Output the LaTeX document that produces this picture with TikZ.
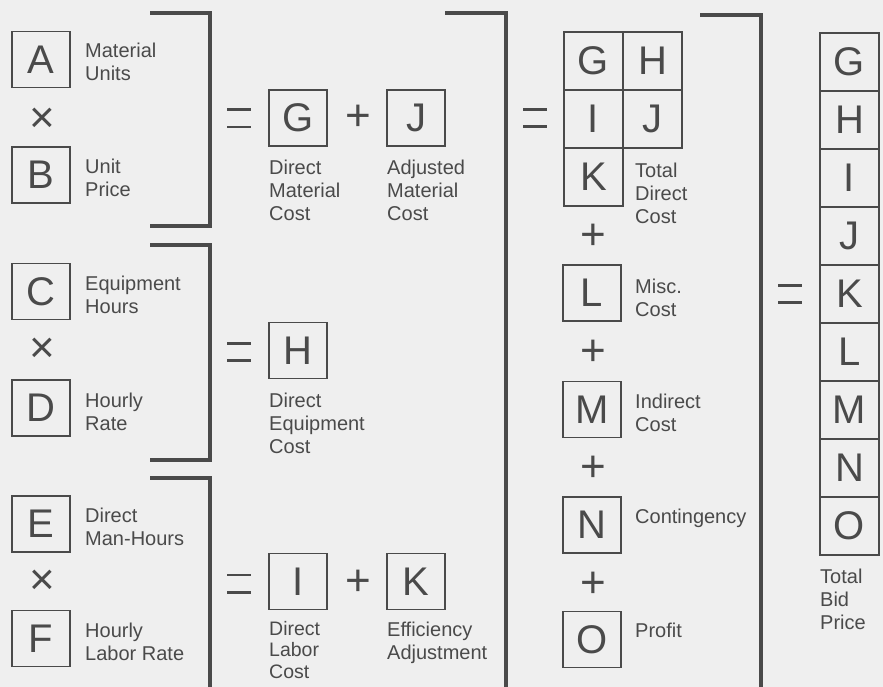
\documentclass[tikz,border=0pt]{standalone}
\usepackage{fontspec}
\setmainfont{Liberation Sans}
\definecolor{bg}{HTML}{EFEFEF}
\definecolor{ink}{HTML}{4A4A4A}
\begin{document}
\begin{tikzpicture}[x=1pt,y=-1pt,
  lbox/.style={draw=ink, line width=1.5pt, minimum width=58pt, minimum height=56pt, inner sep=0pt, text=ink, font=\fontsize{40}{40}\selectfont},
  cellbox/.style={lbox, minimum width=59pt, minimum height=58pt},
  lab/.style={anchor=north west, inner sep=0pt, align=left, text=ink, font=\fontsize{20}{23}\selectfont},
  labtight/.style={lab, font=\fontsize{19.5}{21.5}\selectfont},
  op/.style={inner sep=0pt, text=ink, font=\fontsize{44}{44}\selectfont},
  eqs/.style={minimum width=23pt, minimum height=17pt, inner sep=0pt},
  eqline/.style={draw=ink, line width=2.6pt},
  brk/.style={draw=ink, line width=3.5pt}]
\fill[bg] (0,0) rectangle (883,687);
\useasboundingbox (0,0) rectangle (883,687);

% left column inputs
\node[lbox] (A) at (41,59.5) {A};
\node[op] (x1) at (42,120) {×};
\node[lbox] (B) at (41,175) {B};
\node[lbox] (C) at (41,291.5) {C};
\node[op] (x2) at (42,350) {×};
\node[lbox] (D) at (41,408) {D};
\node[lbox] (E) at (41,524) {E};
\node[op] (x3) at (42,582) {×};
\node[lbox] (F) at (41,638.5) {F};

\node[lab] (lA) at (85,42.5) {Material\\Units};
\node[lab] (lB) at (85,159) {Unit\\Price};
\node[lab] (lC) at (85,276) {Equipment\\Hours};
\node[lab] (lD) at (85,393) {Hourly\\Rate};
\node[lab] (lE) at (85,508) {Direct\\Man-Hours};
\node[lab] (lF) at (85,623) {Hourly\\Labor Rate};

% brackets left
\draw[brk] (150,13) -- (210,13) -- (210,226) -- (150,226);
\draw[brk] (150,245) -- (210,245) -- (210,460) -- (150,460);
\draw[brk] (150,478) -- (210,478) -- (210,690);

% equals signs
\node[eqs] (e1) at (239,118.5) {};
\node[eqs] (e2) at (239,352) {};
\node[eqs] (e3) at (239,583.5) {};
\node[eqs] (e4) at (535,118) {};
\node[eqs] (e5) at (790,294) {};
\foreach \e in {e1,e2,e3,e4,e5}{
  \draw[eqline] (\e.north west) -- (\e.north east);
  \draw[eqline] (\e.south west) -- (\e.south east);
}

% middle column
\node[lbox] (G1) at (298,118) {G};
\node[op] (p1) at (358,118) {+};
\node[lbox] (J1) at (416,118) {J};
\node[lab] (lG1) at (269,160) {Direct\\Material\\Cost};
\node[lab] (lJ1) at (387,160) {Adjusted\\Material\\Cost};

\node[lbox] (H1) at (298,350.5) {H};
\node[lab] (lH1) at (269,393) {Direct\\Equipment\\Cost};

\node[lbox] (I1) at (298,581.5) {I};
\node[op] (p2) at (358,583) {+};
\node[lbox] (K1) at (416,581.5) {K};
\node[labtight] (lI1) at (269,621) {Direct\\Labor\\Cost};
\node[lab] (lK1) at (387,622) {Efficiency\\Adjustment};

% big middle bracket
\draw[brk] (445,13) -- (506,13) -- (506,690);

% grid of direct costs
\node[cellbox] (G2) at (593.5,61) {G};
\node[cellbox] (H2) at (652.5,61) {H};
\node[cellbox] (I2) at (593.5,119) {I};
\node[cellbox] (J2) at (652.5,119) {J};
\node[cellbox] (K2) at (593.5,177) {K};
\node[lab] (lT) at (635,163) {Total\\Direct\\Cost};

\node[op] (p3) at (593,237) {+};
\node[lbox] (L2) at (592,293) {L};
\node[lab] (lL) at (635,279) {Misc.\\Cost};
\node[op] (p4) at (593,353) {+};
\node[lbox] (M2) at (592,409.5) {M};
\node[lab] (lM) at (635,394) {Indirect\\Cost};
\node[op] (p5) at (593,469) {+};
\node[lbox] (N2) at (592,525) {N};
\node[lab] (lN) at (635,509) {Contingency};
\node[op] (p6) at (593,585) {+};
\node[lbox] (O2) at (592,639.5) {O};
\node[lab] (lO) at (635,623) {Profit};

% right bracket
\draw[brk] (700,15) -- (761,15) -- (761,690);

% total column
\foreach \l [count=\i from 0] in {G,H,I,J,K,L,M,N,O}{
  \node[cellbox] (t\l) at (849.5,{62+58*\i}) {\l};
}
\node[lab] (lTot) at (820,569) {Total\\Bid\\Price};
\end{tikzpicture}
\end{document}
